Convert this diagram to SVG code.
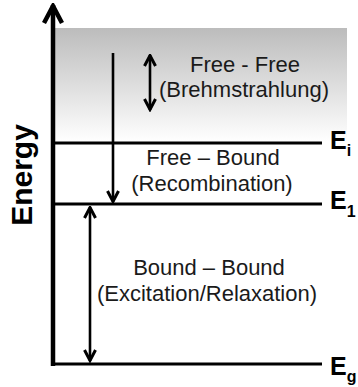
<svg xmlns="http://www.w3.org/2000/svg" width="358" height="387" viewBox="0 0 358 387">
<defs>
<linearGradient id="g" x1="0" y1="0" x2="0" y2="1">
<stop offset="0" stop-color="#bcbcbc"/>
<stop offset="1" stop-color="#ffffff"/>
</linearGradient>
<marker id="ah" viewBox="0 0 14 14" refX="12.5" refY="7" markerWidth="14" markerHeight="14" markerUnits="userSpaceOnUse" orient="auto-start-reverse">
<path d="M1.5,1.5 L12,7 L1.5,12.5" fill="none" stroke="#000" stroke-width="3"/>
</marker>
<marker id="axh" viewBox="0 0 22 22" refX="20" refY="11" markerWidth="22" markerHeight="22" markerUnits="userSpaceOnUse" orient="auto">
<path d="M2,2 L19,11 L2,20" fill="none" stroke="#000" stroke-width="4.5"/>
</marker>
</defs>
<style>
.t{font-family:"Liberation Sans",Arial,sans-serif;font-size:22px;fill:#1a1a1a;text-anchor:middle}
.lvl{stroke:#000;stroke-width:3;fill:none}
.arr{stroke:#000;stroke-width:2.6;fill:none}
.e{font-family:"Liberation Sans",Arial,sans-serif;font-weight:bold;font-size:25px;fill:#000}
.sub{font-size:16px}
</style>
<rect id="continuum" x="55" y="28" width="292" height="114" fill="url(#g)"/>
<g id="axis">
<line x1="53" y1="366" x2="53" y2="5" stroke="#000" stroke-width="4.5" marker-end="url(#axh)"/>
<text class="e" style="font-size:30px" transform="translate(32,175) rotate(-90)" text-anchor="middle">Energy</text>
</g>
<g id="Eg">
<line class="lvl" x1="51" y1="364" x2="322" y2="364"/>
<text class="e" x="330" y="375">E<tspan class="sub" dy="7">g</tspan></text>
</g>
<g id="E1">
<line class="lvl" x1="53" y1="204" x2="322" y2="204"/>
<text class="e" x="330" y="209">E<tspan class="sub" dy="8">1</tspan></text>
</g>
<g id="Ei">
<line class="lvl" x1="53" y1="143" x2="322" y2="143"/>
<text class="e" x="330" y="149">E<tspan class="sub" dy="7">i</tspan></text>
</g>
<g id="connectors">
<line class="arr" x1="113" y1="53" x2="113" y2="202" marker-end="url(#ah)"/>
<line class="arr" x1="150" y1="55" x2="150" y2="110" marker-start="url(#ah)" marker-end="url(#ah)"/>
<line class="arr" x1="90" y1="207" x2="90" y2="361" marker-start="url(#ah)" marker-end="url(#ah)"/>
</g>
<g id="free-free">
<text class="t" x="245" y="72">Free - Free</text>
<text class="t" x="244" y="97">(Brehmstrahlung)</text>
</g>
<g id="free-bound">
<text class="t" x="213" y="165">Free – Bound</text>
<text class="t" x="212" y="191">(Recombination)</text>
</g>
<g id="bound-bound">
<text class="t" x="209" y="275">Bound – Bound</text>
<text class="t" x="207" y="301">(Excitation/Relaxation)</text>
</g>
</svg>
